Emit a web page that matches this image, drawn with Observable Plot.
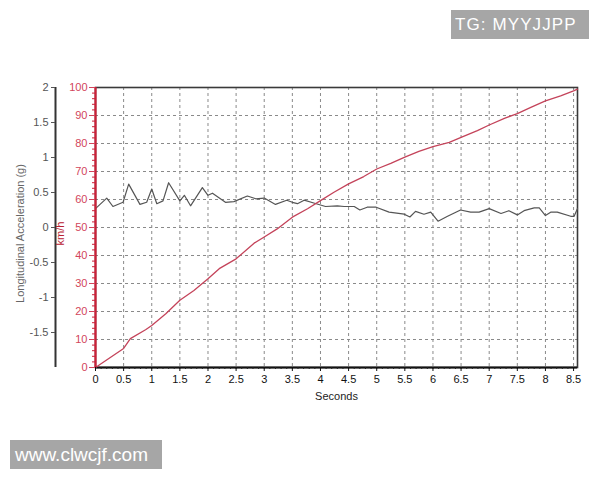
<!DOCTYPE html>
<html>
<head>
<meta charset="utf-8">
<script src="https://cdn.jsdelivr.net/npm/d3@7"></script>
<script src="https://cdn.jsdelivr.net/npm/@observablehq/plot@0.6"></script>
<style>
  html, body { margin: 0; padding: 0; background: #fff; }
  #wrap { position: relative; width: 600px; height: 480px; overflow: hidden; font-family: "Liberation Sans", Arial, sans-serif; }
  #chart { position: absolute; left: 0; top: 0; }
  .badge { position: absolute; background: #a6a6a6; color: #fff; box-sizing: border-box; white-space: nowrap; }
  #tg { left: 451px; top: 10px; width: 138px; height: 29px; font-size: 17px; line-height: 29px; padding-left: 4px; letter-spacing: 1.1px; }
  #www { left: 10px; top: 440px; width: 152px; height: 29px; font-size: 19px; line-height: 29px; padding-left: 5px; }
</style>
</head>
<body>
<div id="wrap">
  <div id="chart"></div>
  <div class="badge" id="tg">TG: MYYJJPP</div>
  <div class="badge" id="www">www.clwcjf.com</div>
</div>
<script>
// ---- data ----
const speedTime = [0, 0.5, 0.62, 0.89, 1.0, 1.25, 1.5, 1.75, 2.0, 2.2, 2.5, 2.82, 3.0, 3.23, 3.5, 3.77, 4.0, 4.24, 4.5, 4.77, 5.0, 5.25, 5.5, 5.75, 6.0, 6.29, 6.5, 6.79, 7.0, 7.27, 7.5, 7.74, 8.0, 8.27, 8.5, 8.57];
const speedKmh  = [0, 6.8, 10.3, 13.5, 15, 19.2, 24, 27.5, 31.7, 35.3, 38.8, 44.4, 46.6, 49.5, 53.7, 56.7, 59.6, 62.6, 65.6, 68.2, 70.9, 72.9, 75.1, 77.2, 78.9, 80.4, 82.2, 84.6, 86.6, 89, 90.7, 92.9, 95.2, 97, 98.8, 99.4];

const accTime = [0, 0.20, 0.31, 0.49, 0.59, 0.79, 0.91, 1.0, 1.09, 1.20, 1.30, 1.50, 1.58, 1.69, 1.90, 2.0, 2.08, 2.31, 2.46, 2.70, 2.85, 3.0, 3.20, 3.40, 3.50, 3.59, 3.71, 3.88, 4.09, 4.30, 4.42, 4.60, 4.70, 4.83, 4.99, 5.22, 5.49, 5.59, 5.69, 5.84, 5.96, 6.09, 6.26, 6.49, 6.67, 6.82, 7.0, 7.21, 7.35, 7.50, 7.62, 7.80, 7.89, 8.0, 8.10, 8.21, 8.45, 8.51, 8.57];
const accG    = [0.27, 0.42, 0.30, 0.36, 0.62, 0.33, 0.36, 0.55, 0.34, 0.38, 0.64, 0.38, 0.46, 0.31, 0.57, 0.46, 0.49, 0.36, 0.37, 0.45, 0.41, 0.42, 0.33, 0.39, 0.36, 0.34, 0.39, 0.35, 0.30, 0.31, 0.30, 0.30, 0.25, 0.29, 0.29, 0.22, 0.19, 0.15, 0.23, 0.19, 0.22, 0.09, 0.16, 0.25, 0.22, 0.22, 0.27, 0.20, 0.24, 0.18, 0.24, 0.28, 0.28, 0.17, 0.22, 0.22, 0.16, 0.16, 0.27];

const secondTicks = [0, 0.5, 1, 1.5, 2, 2.5, 3, 3.5, 4, 4.5, 5, 5.5, 6, 6.5, 7, 7.5, 8, 8.5];
const speedTicks  = [0, 10, 20, 30, 40, 50, 60, 70, 80, 90, 100];
const accTicks    = [-1.5, -1, -0.5, 0, 0.5, 1, 1.5, 2];

const xLabel = "Seconds";
const accLabel = "Longitudinal Acceleration (g)";
const speedLabel = "km/h";

// ---- tables ----
const speedRows = speedTime.map((t, i) => ({t, v: speedKmh[i]}));
const accRows = accTime.map((t, i) => ({t, g: accG[i]}));
// the acceleration axis (-2..2 g) shares the plot height with the speed axis (0..100 km/h)
const accToSpeed = g => (g + 2) * 25;
const speedToAcc = v => v / 25 - 2;

const minorX = d3.range(0, 86).map(i => i / 10);
const minorY = d3.range(0, 51).map(i => i * 2);

const red = "#d2455b";

const chart = Plot.plot({
  width: 600,
  height: 480,
  marginLeft: 95,
  marginRight: 23,
  marginTop: 87,
  marginBottom: 113,
  style: {fontFamily: "'Liberation Sans', Arial, sans-serif", fontSize: "11px", background: "transparent", overflow: "visible"},
  x: {domain: [0, 8.57]},
  y: {domain: [0, 100]},
  marks: [
    Plot.gridX(secondTicks.slice(1), {stroke: "#8a8a8a", strokeOpacity: 1, strokeDasharray: "3,3"}),
    Plot.gridY(speedTicks.slice(1, -1), {stroke: "#8a8a8a", strokeOpacity: 1, strokeDasharray: "3,3"}),
    Plot.frame({stroke: "#3a3a3a", strokeWidth: 1.6}),
    Plot.ruleY([0], {stroke: "#111", strokeWidth: 2}),
    Plot.line(accRows, {x: "t", y: d => accToSpeed(d.g), stroke: "#555", strokeWidth: 1.2}),
    Plot.line(speedRows, {x: "t", y: "v", stroke: "#c4435a", strokeWidth: 1.3}),
    // red speed axis
    Plot.ruleX([0], {stroke: "#cc2038", strokeWidth: 2.2}),
    Plot.axisY(minorY, {anchor: "left", tickSize: 3, tickFormat: () => "", color: "#cc2038", label: null}),
    Plot.axisY(speedTicks, {anchor: "left", tickSize: 6, tickPadding: 2, color: red, label: null}),
    // black acceleration axis, offset left
    Plot.ruleX([0], {dx: -40, stroke: "#333", strokeWidth: 2}),
    Plot.axisY(accTicks.map(accToSpeed), {anchor: "left", dx: -40, tickSize: 4, tickPadding: 3, tickFormat: v => String(speedToAcc(v)), color: "#555", label: null}),
    // x axis
    Plot.axisX(minorX, {anchor: "bottom", tickSize: 2, tickFormat: () => "", color: "#222", label: null}),
    Plot.axisX(secondTicks, {anchor: "bottom", tickSize: 4, tickPadding: 4, tickFormat: d => String(d), color: "#111", label: null}),
    // axis titles
    Plot.text([xLabel], {frameAnchor: "bottom", textAnchor: "middle", dy: 32, fill: "#222", fontSize: 11}),
    Plot.text([accLabel], {frameAnchor: "left", textAnchor: "middle", rotate: -90, dx: -75, dy: 6, fill: "#666", fontSize: 11}),
    Plot.text([speedLabel], {frameAnchor: "left", textAnchor: "middle", rotate: -90, dx: -35, dy: 6, fill: "#b8202f", fontSize: 11})
  ]
});
document.getElementById("chart").appendChild(chart);
</script>
</body>
</html>
